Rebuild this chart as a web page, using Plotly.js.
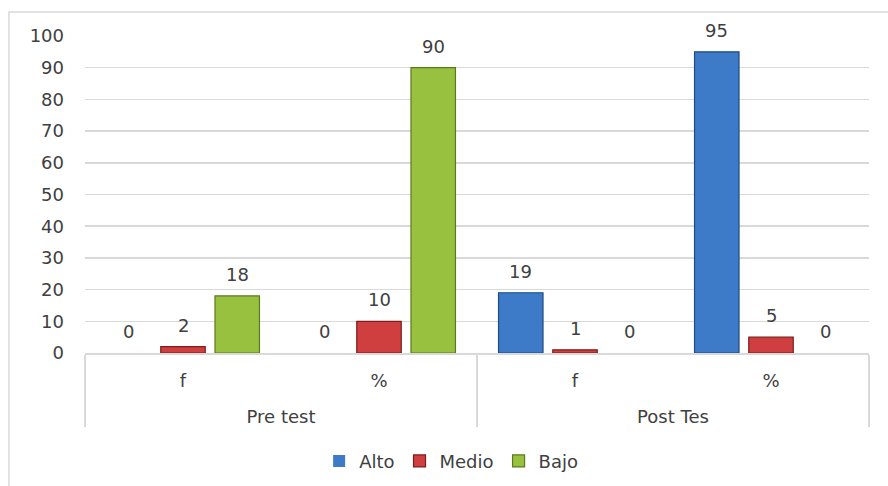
<!DOCTYPE html>
<html>
<head>
<meta charset="utf-8">
<script src="https://cdn.plot.ly/plotly-3.0.1.min.js"></script>
<style>html,body{margin:0;padding:0;background:#fff;}#chart{width:888px;height:486px;}</style>
</head>
<body>
<div id="chart"></div>
<script>
var groups = ["Pre test", "Pre test", "Post Tes", "Post Tes"];
var measures = ["f", "%", "f", "%"];
var seriesNames = ["Alto", "Medio", "Bajo"];
var alto = [0, 0, 19, 95];
var medio = [2, 10, 1, 5];
var bajo = [18, 90, 0, 0];
var yTicks = [0, 10, 20, 30, 40, 50, 60, 70, 80, 90, 100];

var fills = ["#3d7bc9", "#cf3f3f", "#98c13f"];
var edges = ["#1f4a80", "#7e1c1c", "#5a7a1c"];
var values = [alto, medio, bajo];
var FONT = "'DejaVu Sans', Verdana, sans-serif";

var W = 888, H = 486, ML = 85, MR = 19, MT = 36, MB = 133;
var BARGAP = 0.17;

// group labels get a blank first line to push the outer level further down
var groupLabels = groups.map(function (g) { return "<br>" + g; });

var traces = seriesNames.map(function (name, i) {
  return {
    type: "bar",
    name: name,
    x: [groupLabels, measures],
    y: values[i],
    marker: {color: fills[i],
             line: {color: edges[i], width: values[i].map(function (v) { return v === 0 ? 0 : 1.2; })}},
    hoverinfo: "none"
  };
});

// value labels through the axis scales, shifted to each bar's slot
var slotPx = ((W - ML - MR) / measures.length) * (1 - BARGAP) / seriesNames.length;
var annotations = [];
values.forEach(function (arr, i) {
  arr.forEach(function (v, j) {
    annotations.push({
      xref: "x", yref: "y", x: j, y: v, text: String(v), showarrow: false,
      xanchor: "center", yanchor: "bottom", xshift: (i - 1) * slotPx, yshift: 9,
      font: {family: FONT, size: 18, color: "#404040"}
    });
  });
});

var layout = {
  width: W, height: H,
  margin: {l: ML, r: MR, t: MT, b: MB},
  paper_bgcolor: "#ffffff", plot_bgcolor: "#ffffff",
  font: {family: FONT, size: 18, color: "#404040"},
  barmode: "group", bargap: BARGAP, bargroupgap: 0.18,
  showlegend: true,
  legend: {orientation: "h", x: 0.467, xanchor: "center", yref: "container", y: 0.051, yanchor: "middle",
           font: {family: FONT, size: 18, color: "#404040"}, itemwidth: 30, traceorder: "normal"},
  xaxis: {
    type: "multicategory", automargin: false,
    showline: true, linecolor: "#d9d9d9", linewidth: 1.5,
    showdividers: true, dividercolor: "#d9d9d9", dividerwidth: 1.5,
    tickfont: {family: FONT, size: 18, color: "#404040"},
    ticklabelstandoff: 11,
    ticks: "", showgrid: false, zeroline: false
  },
  yaxis: {
    range: [0, 100], tickvals: yTicks, ticktext: yTicks.map(String), automargin: false,
    showgrid: true, gridcolor: "#d9d9d9", gridwidth: 1.5,
    zeroline: false, showline: false, ticks: "",
    tickfont: {family: FONT, size: 18, color: "#404040"}, ticklabelstandoff: 20
  },
  annotations: annotations,
  shapes: [
    {type: "rect", xref: "paper", yref: "paper", x0: -0.097, x1: 1.2, y0: -0.6, y1: 1.0757,
     line: {color: "#d9d9d9", width: 1.5}, fillcolor: "rgba(0,0,0,0)", layer: "below"}
  ]
};

Plotly.newPlot("chart", traces, layout, {displayModeBar: false, staticPlot: true});
</script>
</body>
</html>
